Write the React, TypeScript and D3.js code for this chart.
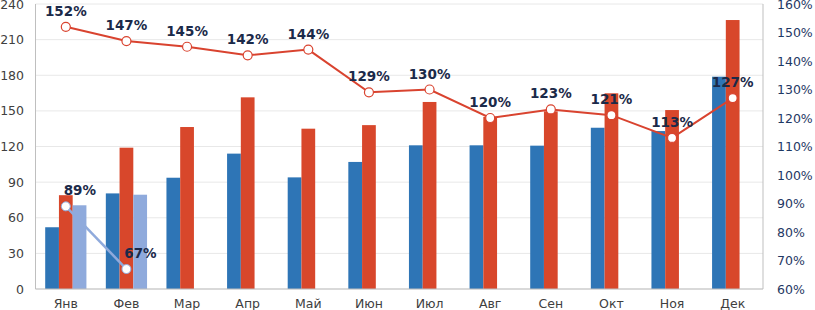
import React from "react";
import * as d3 from "d3";

const months = ["Янв", "Фев", "Мар", "Апр", "Май", "Июн", "Июл", "Авг", "Сен", "Окт", "Ноя", "Дек"];
const seriesBlue = [52, 80.5, 93.7, 114, 94, 107, 121, 121, 120.7, 135.8, 133, 178.8];
const seriesRed = [79, 119, 136.4, 161.4, 135, 138, 157.5, 145, 149.6, 164.8, 150.7, 226.5];
const seriesLight: (number | null)[] = [70.5, 79.4, null, null, null, null, null, null, null, null, null, null];
const pctRed = [152, 147, 145, 142, 144, 129, 130, 120, 123, 121, 113, 127];
const pctLight: (number | null)[] = [89, 67, null, null, null, null, null, null, null, null, null, null];
const leftTicks = [0, 30, 60, 90, 120, 150, 180, 210, 240];
const rightTicks = [60, 70, 80, 90, 100, 110, 120, 130, 140, 150, 160];

const W = 815, H = 310;
const L = 35.5, R = 763, T = 4, B = 289;

const C_BLUE = "#2e75b6";
const C_RED = "#d8472b";
const C_LIGHT = "#8faadc";
const C_LINE = "#d9432f";
const C_LABEL = "#1b2a49";

export default function App() {
  const x = d3.scaleBand<string>().domain(months).range([L, R]).paddingInner(0.32).paddingOuter(0.16);
  const xc = d3.scaleBand<string>().domain(months).range([L, R]);
  const sub = d3.scaleBand<string>().domain(["b", "r", "l"]).range([0, x.bandwidth()]);
  const yL = d3.scaleLinear().domain([0, 240]).range([B, T]);
  const yR = d3.scaleLinear().domain([60, 160]).range([B, T]);
  const cx = (m: string) => (xc(m) as number) + xc.bandwidth() / 2;

  const lineGen = d3.line<[number, number]>().x(d => d[0]).y(d => d[1]);
  const redPts: [number, number][] = months.map((m, i) => [cx(m), yR(pctRed[i])]);
  const lightPts: [number, number][] = months
    .map((m, i) => (pctLight[i] == null ? null : ([cx(m), yR(pctLight[i] as number)] as [number, number])))
    .filter((d): d is [number, number] => d != null);

  const font = "'DejaVu Sans', Verdana, sans-serif";

  return (
    <svg width={W} height={H} style={{ position: "absolute", left: 0, top: 0, background: "#fff" }} fontFamily={font}>
      {leftTicks.map(t => (
        <line key={"g" + t} x1={L} x2={R} y1={yL(t)} y2={yL(t)} stroke="#e8e8e8" strokeWidth={1} />
      ))}
      {months.map((m, i) => (
        <g key={"b" + m} transform={`translate(${x(m)},0)`}>
          <rect x={sub("b")} y={yL(seriesBlue[i])} width={sub.bandwidth()} height={B - yL(seriesBlue[i])} fill={C_BLUE} />
          <rect x={sub("r")} y={yL(seriesRed[i])} width={sub.bandwidth()} height={B - yL(seriesRed[i])} fill={C_RED} />
          {seriesLight[i] != null && (
            <rect x={sub("l")} y={yL(seriesLight[i] as number)} width={sub.bandwidth()} height={B - yL(seriesLight[i] as number)} fill={C_LIGHT} />
          )}
        </g>
      ))}
      <line x1={L} x2={L} y1={T} y2={B} stroke="#bfbfbf" />
      <line x1={R} x2={R} y1={T} y2={B} stroke="#bfbfbf" />
      <line x1={L} x2={R} y1={B} y2={B} stroke="#bfbfbf" />
      {leftTicks.map(t => (
        <text key={"lt" + t} x={24} y={yL(t)} dy="0.36em" textAnchor="end" fontSize={12.5} fill="#404040">{t}</text>
      ))}
      {rightTicks.map(t => (
        <text key={"rt" + t} x={777} y={yR(t)} dy="0.36em" textAnchor="start" fontSize={12.5} fill="#1f3864">{t}%</text>
      ))}
      {months.map(m => (
        <text key={"m" + m} x={cx(m)} y={307.5} textAnchor="middle" fontSize={12.5} fill="#404040">{m}</text>
      ))}
      <path d={lineGen(lightPts) || ""} fill="none" stroke={C_LIGHT} strokeWidth={2.5} />
      <path d={lineGen(redPts) || ""} fill="none" stroke={C_LINE} strokeWidth={2} />
      {lightPts.map((p, i) => (
        <circle key={"lc" + i} cx={p[0]} cy={p[1]} r={4.5} fill="#fff" stroke={C_LIGHT} strokeWidth={1} />
      ))}
      {redPts.map((p, i) => (
        <circle key={"rc" + i} cx={p[0]} cy={p[1]} r={4.5} fill="#fff" stroke={C_LINE} strokeWidth={1.2} />
      ))}
      {redPts.map((p, i) => (
        <text key={"rl" + i} x={p[0]} y={p[1] - 11} textAnchor="middle" fontSize={13.5} fontWeight="bold" fill={C_LABEL}>{pctRed[i]}%</text>
      ))}
      {lightPts.map((p, i) => (
        <text key={"ll" + i} x={p[0] + 14} y={p[1] - 11} textAnchor="middle" fontSize={13.5} fontWeight="bold" fill={C_LABEL}>{pctLight[i]}%</text>
      ))}
    </svg>
  );
}
